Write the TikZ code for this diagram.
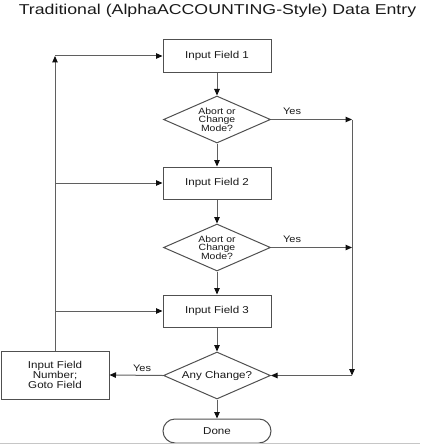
\documentclass[tikz,border=0pt]{standalone}
\usepackage{fontspec}
\setmainfont{Liberation Sans}[FakeStretch=1.16]
\newfontfamily\titlefont{Liberation Sans}[FakeStretch=1.24]
\usetikzlibrary{arrows.meta,shapes.geometric}
\definecolor{linec}{RGB}{95,95,95}
\definecolor{boxc}{RGB}{80,80,80}
\definecolor{txt}{RGB}{25,25,25}
\definecolor{tipc}{RGB}{15,15,15}
\tikzset{
  box/.style={draw=boxc, line width=1pt, minimum width=108pt, minimum height=32pt,
    inner sep=0pt, align=center, text=txt, font=\fontsize{10}{8.4}\selectfont},
  dec/.style={diamond, aspect=2.3, draw=boxc, line width=1pt, minimum width=107pt,
    minimum height=47pt, inner sep=0pt, align=center, text=txt,
    font=\fontsize{9}{8.5}\selectfont},
  term/.style={draw=boxc, line width=1pt, rounded corners=12pt, minimum width=108pt,
    minimum height=24pt, inner sep=0pt, text=txt, font=\fontsize{10}{12}\selectfont},
  conn/.style={draw=linec, line width=1pt},
  arr/.style={conn, -{Triangle[length=6.5pt,width=5.5pt,color=tipc]}},
  yeslab/.style={text=txt, font=\fontsize{9.5}{11}\selectfont, inner sep=1pt}
}
\begin{document}
\begin{tikzpicture}[x=1pt,y=-1pt]
\useasboundingbox (0,0) rectangle (420,444);
\node[anchor=base, text=txt, font=\titlefont\fontsize{14.3}{16}\selectfont] (title) at (217.5,14.5)
  {Traditional (AlphaACCOUNTING-Style) Data Entry};

\node[box] (f1) at (217,56) {Input Field 1};
\node[dec] (d1) at (217,119.5) {Abort or\\Change\\Mode?};
\node[box] (f2) at (217,183) {Input Field 2};
\node[dec] (d2) at (217,247.5) {Abort or\\Change\\Mode?};
\node[box] (f3) at (217,311) {Input Field 3};
\node[dec, font=\fontsize{10}{10}\selectfont] (d3) at (217,375.5) {Any Change?};
\node[term] (done) at (217,431) {Done};
\node[box, minimum width=108pt, minimum height=48pt] (go) at (55,375) {Input Field\\Number;\\Goto Field};

\coordinate (cL1) at (55,56);
\coordinate (cL2) at (55,183);
\coordinate (cL3) at (55,311);
\coordinate (cR1) at (352,119.5);
\coordinate (cR2) at (352,247.5);
\coordinate (cR3) at (352,375.5);

\draw[arr] (f1) -- (d1);
\draw[arr] (d1) -- (f2);
\draw[arr] (f2) -- (d2);
\draw[arr] (d2) -- (f3);
\draw[arr] (f3) -- (d3);
\draw[arr] (d3) -- (done);

\draw[arr] (d1.east) -- node[yeslab, pos=0.26, above=3pt] {Yes} (cR1);
\draw[arr] (d2.east) -- node[yeslab, pos=0.26, above=3pt] {Yes} (cR2);
\draw[arr] (cR1) -- (cR3);
\draw[arr] (cR3) -- (d3.east);

\draw[arr] (d3.west) -- node[yeslab, pos=0.39, above=2pt] {Yes} (go.east);
\draw[arr] (go.north) -- (cL1);
\draw[arr] (cL1) -- (f1.west);
\draw[arr] (cL2) -- (f2.west);
\draw[arr] (cL3) -- (f3.west);

\draw[gray!45, line width=1pt] (0,443.5) -- (420,443.5);
\end{tikzpicture}
\end{document}
